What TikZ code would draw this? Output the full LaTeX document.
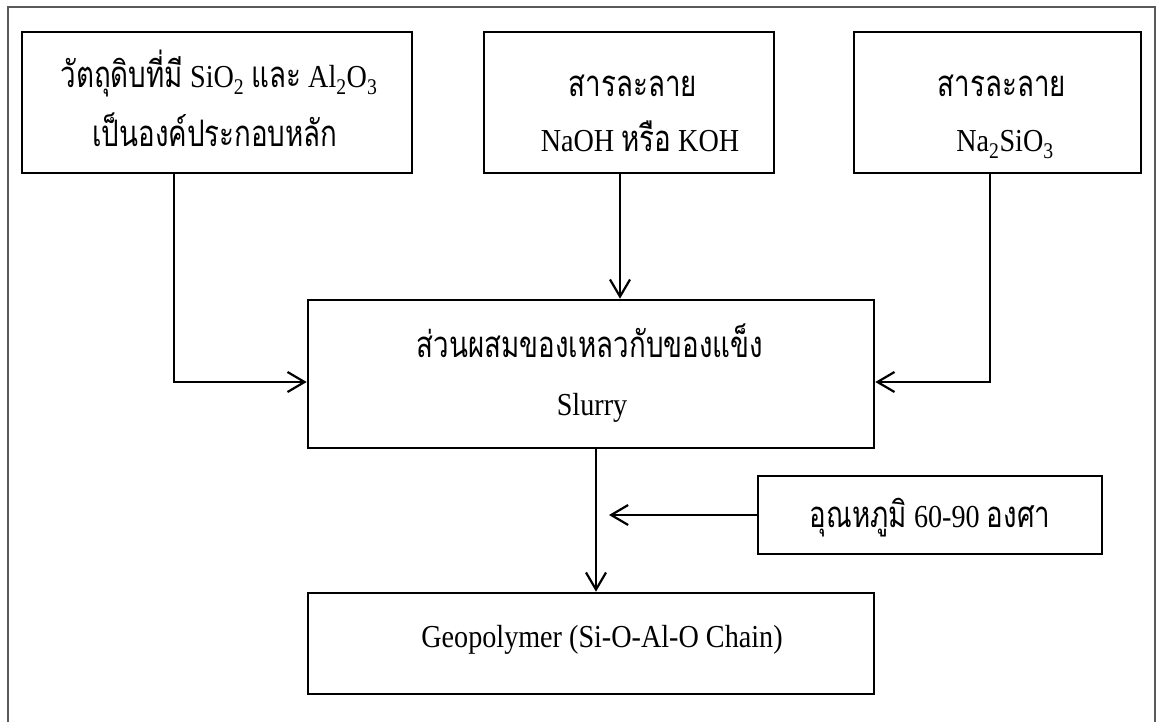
\documentclass[tikz,border=0pt]{standalone}
\usepackage{fontspec}
\setmainfont{Liberation Serif}[FakeStretch=0.88]
\newfontfamily\thaifont[Script=Thai,Scale=1.14,FakeStretch=0.76]{Loma}
\newcommand\thx[1]{{\thaifont #1}}
\usetikzlibrary{arrows.meta}
\tikzset{
  box/.style={draw=black, line width=2.6pt, rectangle, inner sep=0pt},
  txt/.style={anchor=base, inner sep=0pt, font=\fontsize{32}{40}\selectfont},
  conn/.style={draw=black, line width=2.2pt,
    -{Straight Barb[length=17pt,width=20pt,line width=2.2pt]}},
  frameline/.style={draw=black!65, line width=1.6pt}
}
\begin{document}
\begin{tikzpicture}[x=1pt,y=-1pt]
\useasboundingbox (0,0) rectangle (1158,722);
\fill[white] (0,0) rectangle (1158,722);
\draw[frameline] (8,722) -- (8,7) -- (1155,7) -- (1155,722);

% boxes
\node[box, minimum width=390pt, minimum height=141pt] (A) at (217,102.5) {};
\node[box, minimum width=290pt, minimum height=141pt] (B) at (629,102.5) {};
\node[box, minimum width=287pt, minimum height=141pt] (C) at (997.5,102.5) {};
\node[box, minimum width=566pt, minimum height=148pt] (D) at (591,374) {};
\node[box, minimum width=344pt, minimum height=78pt] (T) at (930,515) {};
\node[box, minimum width=566pt, minimum height=101pt] (G) at (591,643.5) {};

% texts
\node[txt] (A1) at (219,88) {\thx{วัตถุดิบที่มี} SiO\textsubscript{2} \thx{และ} Al\textsubscript{2}O\textsubscript{3}};
\node[txt] (A2) at (215,147) {\thx{เป็นองค์ประกอบหลัก}};
\node[txt] (B1) at (633,97) {\thx{สารละลาย}};
\node[txt] (B2) at (640,152) {NaOH \thx{หรือ} KOH};
\node[txt] (C1) at (1002,97) {\thx{สารละลาย}};
\node[txt] (C2) at (1005,152) {Na\textsubscript{2}SiO\textsubscript{3}};
\node[txt] (D1) at (590,357) {\thx{ส่วนผสมของเหลวกับของแข็ง}};
\node[txt] (D2) at (592,415) {Slurry};
\node[txt] (T1) at (930,527) {\thx{อุณหภูมิ} 60-90 \thx{องศา}};
\node[txt] (G1) at (602,647) {Geopolymer (Si-O-Al-O Chain)};

\coordinate (xa) at (174,0);
\coordinate (xb) at (620,0);
\coordinate (xc) at (990,0);
\coordinate (xd) at (596,0);
\coordinate (ya) at (0,382);
\coordinate (tt) at (609,515);

\draw[conn] (A.south -| xa) |- (D.west |- ya);
\draw[conn] (B.south -| xb) -- (D.north -| xb);
\draw[conn] (C.south -| xc) |- (D.east |- ya);
\draw[conn] (D.south -| xd) -- (G.north -| xd);
\draw[conn] (T.west) -- (tt);
\end{tikzpicture}
\end{document}
